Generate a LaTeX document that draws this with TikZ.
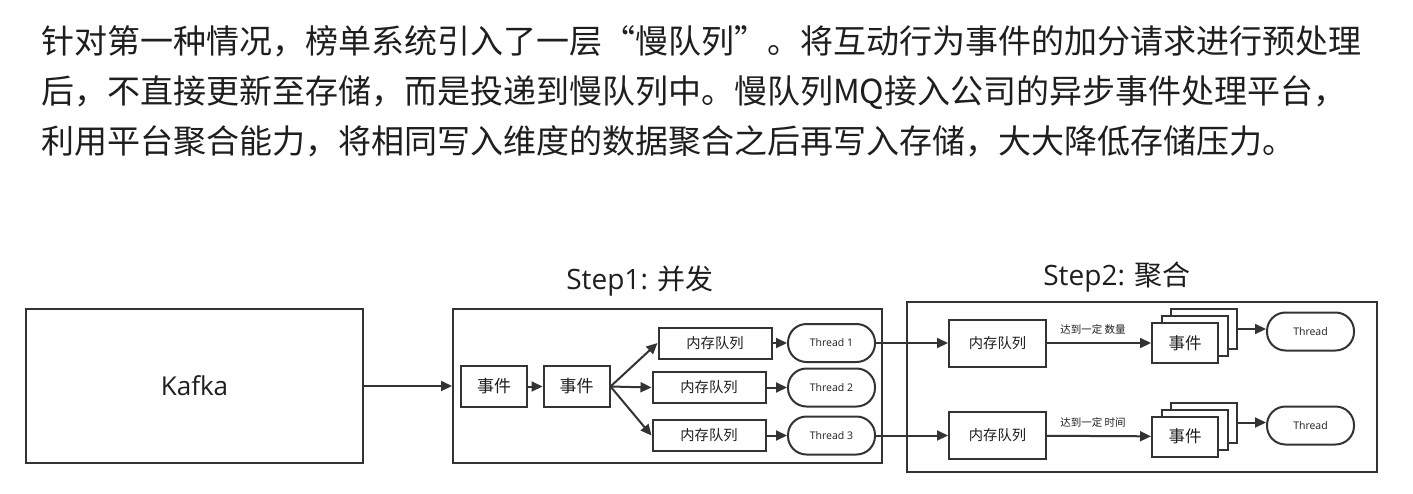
\documentclass[tikz,border=0pt]{standalone}
\usepackage{fontspec}
\setmainfont{Open Sans}
\newfontfamily\cjk{Noto Sans CJK SC}
\usetikzlibrary{arrows.meta}
\definecolor{ink}{HTML}{333333}
\definecolor{txt}{HTML}{1E1E1E}

\begin{document}
\begin{tikzpicture}[x=1pt, y=-1pt,
  >={Triangle[length=11pt,width=10pt]},
  every node/.style={inner sep=0pt, text=txt},
  para/.style={anchor=base west, font=\cjk\fontsize{33}{40}\selectfont},
  stepframe/.style={draw=ink, line width=2pt},
  steptitle/.style={anchor=base, font=\fontsize{28}{32}\selectfont},
  box/.style={draw=ink, line width=2pt, fill=white},
  event/.style={box, minimum width=66pt, minimum height=41pt, font=\cjk\fontsize{17}{20}\selectfont},
  queue/.style={box, minimum width=113pt, minimum height=31pt, font=\cjk\fontsize{14.3}{16}\selectfont},
  pill/.style={box, rounded corners=18.5pt, minimum width=87pt, minimum height=38pt, font=\fontsize{10.5}{12}\selectfont},
  note/.style={font=\cjk\fontsize{10.5}{12}\selectfont},
  flow/.style={draw=ink, line width=2pt, ->}]

\useasboundingbox (0,0) rectangle (1413,493);

% paragraph
\node[para] (line1) at (41,53) {针对第一种情况，榜单系统引入了一层“慢队列”。将互动行为事件的加分请求进行预处理};
\node[para] (line2) at (41,103.5) {后，不直接更新至存储，而是投递到慢队列中。慢队列MQ接入公司的异步事件处理平台，};
\node[para] (line3) at (41,153.5) {利用平台聚合能力，将相同写入维度的数据聚合之后再写入存储，大大降低存储压力。};

% source
\node[box, minimum width=337pt, minimum height=154pt, font=\fontsize{26}{30}\selectfont] (kafka) at (194.5,386) {Kafka};

% step 1
\node[stepframe, minimum width=429pt, minimum height=154pt] (step1) at (667.5,386) {};
\node[steptitle] (title1) at (640,289) {Step1: {\cjk 并发}};

\node[event] (ev1) at (494,386.5) {事件};
\node[event] (ev2) at (576.5,386.5) {事件};

\node[queue] (q1) at (715,343) {内存队列};
\node[queue] (q2) at (709,387.5) {内存队列};
\node[queue] (q3) at (709,435.5) {内存队列};

\node[pill] (t1) at (831.5,343) {Thread 1};
\node[pill] (t2) at (831.5,387.5) {Thread 2};
\node[pill] (t3) at (831.5,435.5) {Thread 3};

% step 2
\node[stepframe, minimum width=470pt, minimum height=170pt] (step2) at (1142,387) {};
\node[steptitle] (title2) at (1117,285) {Step2: {\cjk 聚合}};

\node[box, minimum width=97pt, minimum height=47pt, font=\cjk\fontsize{14.3}{16}\selectfont] (qa) at (997.5,343) {内存队列};
\node[box, minimum width=97pt, minimum height=47pt, font=\cjk\fontsize{14.3}{16}\selectfont] (qb) at (997.5,435.5) {内存队列};

% stacked events, back to front
\node[event, minimum height=40pt] (eva3) at (1204,329) {};
\node[event, minimum height=40pt] (eva2) at (1195,336) {};
\node[event, minimum height=40pt, font=\cjk\fontsize{16.5}{20}\selectfont] (eva1) at (1185,343) {事件};
\node[event, minimum height=40pt] (evb3) at (1204,422.5) {};
\node[event, minimum height=40pt] (evb2) at (1195,429.5) {};
\node[event, minimum height=40pt, font=\cjk\fontsize{16.5}{20}\selectfont] (evb1) at (1185,436.5) {事件};

\node[pill] (ta) at (1310.5,331.5) {Thread};
\node[pill] (tb) at (1310.5,425.5) {Thread};

% connectors
\draw[flow] (kafka) -- (step1);
\draw[flow] (ev1) -- (ev2);
\draw[flow] (ev2.east) -- (q1.west);
\draw[flow] (ev2.east) -- (q2.west);
\draw[flow] (ev2.east) -- (q3.west);
\draw[flow] (q1) -- (t1);
\draw[flow] (q2) -- (t2);
\draw[flow] (q3) -- (t3);
\draw[flow] (t1.east) -- (qa.west);
\draw[flow] (t3.east) -- (qb.west);
\draw[flow] (qa) -- node[note, midway, above=8pt, xshift=-6pt] {达到一定 数量} (eva1);
\draw[flow] (qb) -- node[note, midway, above=8pt, xshift=-6pt] {达到一定 时间} (evb1);
\draw[flow] (eva3.east) -- (eva3.east -| ta.west);
\draw[flow] (evb3.east) -- (evb3.east -| tb.west);

\end{tikzpicture}
\end{document}
